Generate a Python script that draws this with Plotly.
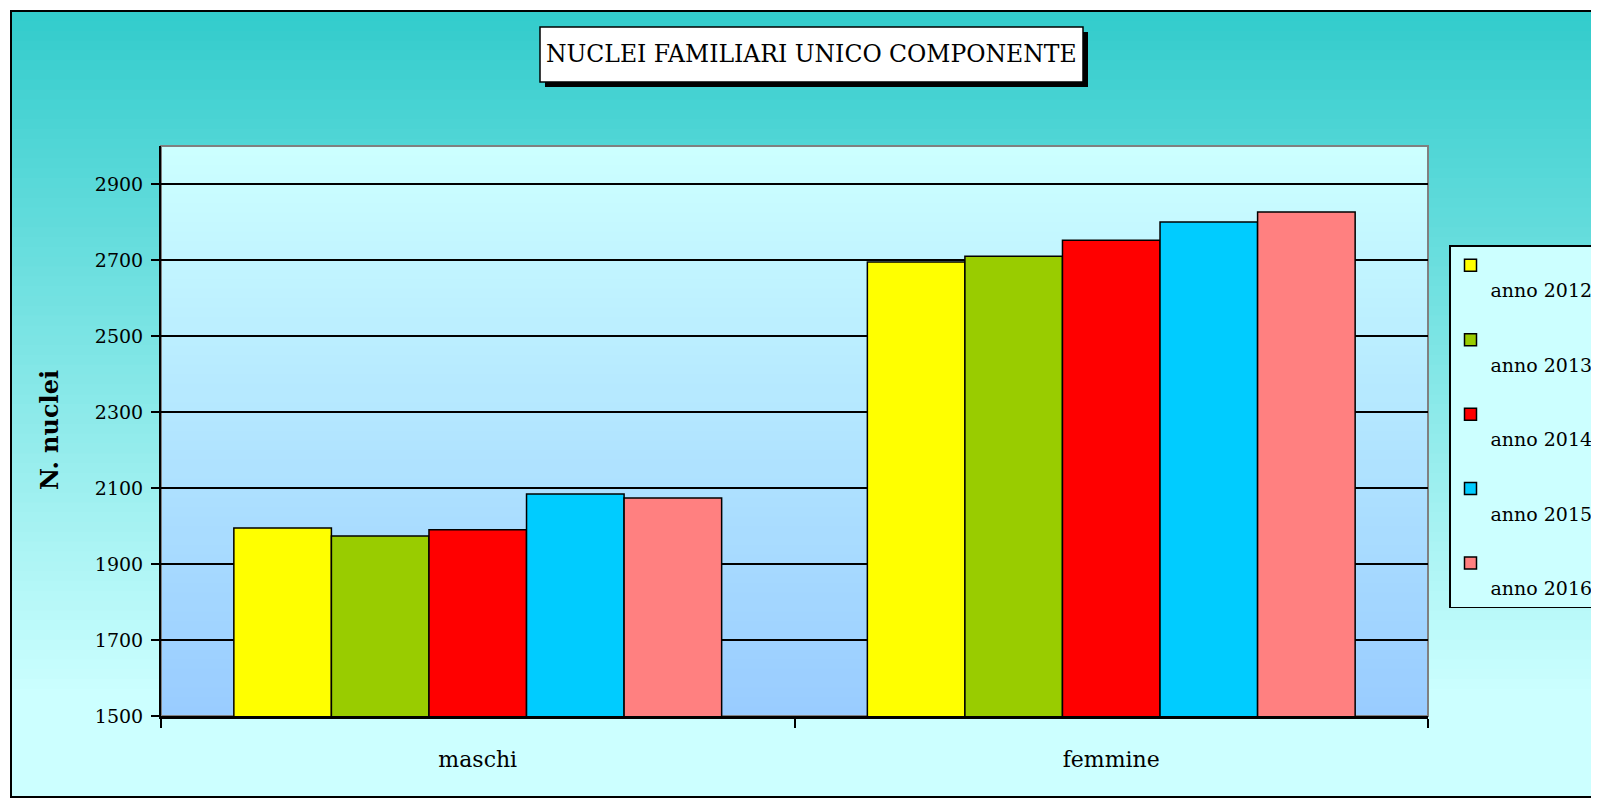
import plotly.graph_objects as go

categories = ["maschi", "femmine"]
years = ["anno 2012", "anno 2013", "anno 2014", "anno 2015", "anno 2016"]
values_2012 = [1995, 2695]
values_2013 = [1974, 2710]
values_2014 = [1990, 2752]
values_2015 = [2084, 2800]
values_2016 = [2074, 2826]
series = [values_2012, values_2013, values_2014, values_2015, values_2016]
colors = ["#FFFF00", "#99CC00", "#FF0000", "#00CCFF", "#FF8080"]

FONT = "DejaVu Serif"
W, H = 1599, 800
OFF = 8  # page body margin
L, R, T, B = 161 - OFF, 1428 - OFF, 146 - OFF, 716 - OFF


def px(x):
    return (x - OFF - L) / (R - L)


def py(y):
    return (B - (y - OFF)) / (B - T)


def lerp(c1, c2, t):
    a = [int(c1[i:i + 2], 16) for i in (1, 3, 5)]
    b = [int(c2[i:i + 2], 16) for i in (1, 3, 5)]
    return "#%02x%02x%02x" % tuple(round(a[k] + (b[k] - a[k]) * t) for k in range(3))


fig = go.Figure()
for name, vals, col in zip(years, series, colors):
    fig.add_trace(go.Bar(
        x=categories, y=vals, name="<br>" + name, legendgroup=name,
        marker=dict(color=col, line=dict(color="black", width=1.5)),
    ))

shapes = []
# outer frame gradient (page coords)
top_y, bot_y = 11, 797
n = 80
for i in range(n):
    y0 = top_y + (bot_y - top_y) * i / n
    y1 = top_y + (bot_y - top_y) * (i + 1) / n + 0.8
    t = min(1.0, (y0 - top_y) / (690 - top_y))
    shapes.append(dict(type="rect", xref="paper", yref="paper",
                       x0=px(11), x1=px(1700), y0=py(min(y1, bot_y)), y1=py(y0),
                       fillcolor=lerp("#33CCCC", "#CCFFFF", t), line=dict(width=0),
                       layer="below"))
# plot area gradient
n2 = 60
for i in range(n2):
    y0 = T + (B - T) * i / n2
    y1 = T + (B - T) * (i + 1) / n2 + 0.8
    t = i / (n2 - 1)
    shapes.append(dict(type="rect", xref="paper", yref="paper",
                       x0=0, x1=1, y0=(B - min(y1, B)) / (B - T), y1=(B - y0) / (B - T),
                       fillcolor=lerp("#CCFFFF", "#99CCFF", t), line=dict(width=0),
                       layer="below"))
# plot area border (grey)
shapes.append(dict(type="rect", xref="paper", yref="paper", x0=0, x1=1, y0=0, y1=1,
                   line=dict(color="#808080", width=2), layer="below"))
# outer frame border
shapes.append(dict(type="rect", xref="paper", yref="paper",
                   x0=px(11), x1=px(1700), y0=py(797), y1=py(11),
                   line=dict(color="black", width=2), layer="below"))
# title box shadow and box
shapes.append(dict(type="rect", xref="paper", yref="paper",
                   x0=px(545), x1=px(1088), y0=py(87), y1=py(32),
                   fillcolor="black", line=dict(width=0), layer="below"))
shapes.append(dict(type="rect", xref="paper", yref="paper",
                   x0=px(540), x1=px(1083), y0=py(82), y1=py(27),
                   fillcolor="white", line=dict(color="black", width=1.5), layer="below"))

fig.update_layout(
    width=W, height=H,
    margin=dict(l=L, r=W - R, t=T, b=H - B, autoexpand=False),
    paper_bgcolor="white",
    plot_bgcolor="rgba(0,0,0,0)",
    font=dict(family=FONT, color="black"),
    barmode="group", bargap=0.23, bargroupgap=0,
    shapes=shapes,
    showlegend=True,
    legend=dict(
        xref="container", yref="container",
        x=(1449 - OFF) / W, y=1 - (245 - OFF) / H, xanchor="left", yanchor="top",
        bgcolor="#CCFFFF", bordercolor="black", borderwidth=1.5,
        font=dict(family=FONT, size=19, color="black"),
        valign="top", tracegroupgap=22, itemwidth=30,
    ),
    annotations=[
        dict(text="NUCLEI FAMILIARI UNICO COMPONENTE", xref="paper", yref="paper",
             x=px(811), y=py(54), showarrow=False, xanchor="center", yanchor="middle",
             font=dict(family=FONT, size=23.5, color="black")),
        dict(text="<b>N. nuclei</b>", xref="paper", yref="paper",
             x=px(49), y=py(430), showarrow=False, textangle=-90,
             xanchor="center", yanchor="middle",
             font=dict(family=FONT, size=24, color="black")),
    ],
)

fig.update_yaxes(
    range=[1500, 3000], tick0=1500, dtick=200,
    ticks="outside", ticklen=8, tickcolor="black", tickwidth=1.5,
    showline=True, linecolor="black", linewidth=2,
    showgrid=True, gridcolor="black", gridwidth=1.5,
    tickfont=dict(family=FONT, size=19, color="black"),
    ticklabelstandoff=4, zeroline=False,
)
fig.update_xaxes(
    tickson="boundaries", ticks="outside", ticklen=9, tickcolor="black", tickwidth=1.5,
    showline=True, linecolor="black", linewidth=2.5,
    tickfont=dict(family=FONT, size=22, color="black"),
    ticklabelstandoff=22,
)

fig.write_html("out.html")
